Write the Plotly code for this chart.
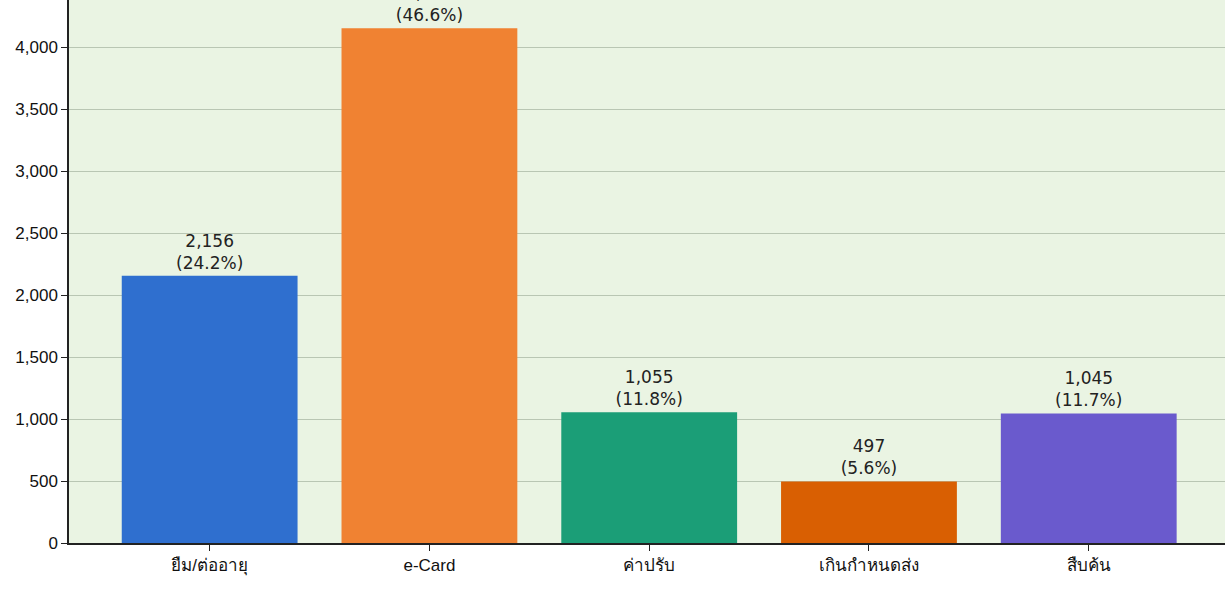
import plotly.graph_objects as go

categories = ["ยืม/ต่ออายุ", "e-Card", "ค่าปรับ", "เกินกำหนดส่ง", "สืบค้น"]
values = [2156, 4152, 1055, 497, 1045]
percents = [24.2, 46.6, 11.8, 5.6, 11.7]
colors = ["#2F6FCF", "#F08232", "#1B9E77", "#D95F02", "#6A5ACD"]

labels = [f"{v:,}<br>({p}%)" for v, p in zip(values, percents)]

fig = go.Figure(go.Bar(
    x=categories, y=values, marker_color=colors, marker_line_width=0,
    width=0.8, text=labels, textposition="outside", cliponaxis=True,
    textfont=dict(family="DejaVu Sans, Liberation Sans, sans-serif", size=17, color="#222"),
))

fig.update_layout(
    width=1225, height=590,
    margin=dict(l=69, r=0, t=0, b=47),
    paper_bgcolor="white", plot_bgcolor="#EAF4E3",
    font=dict(family="Liberation Sans, Arial, sans-serif", size=17, color="#111"),
    showlegend=False,
    bargap=0.2,
)
fig.update_xaxes(range=[-0.64, 4.62], showline=True, linecolor="#222", linewidth=1.5,
                 ticks="outside", ticklen=6, tickcolor="#222", showgrid=False)
fig.update_yaxes(range=[0, 4380], showline=True, linecolor="#222", linewidth=1.5,
                 ticks="outside", ticklen=6, tickcolor="#222", tickformat=",",
                 dtick=500, gridcolor="#B9C6B3", gridwidth=1, layer="above traces",
                 zeroline=False)

fig.write_html("out.html", config={"displayModeBar": False},
               post_script="document.body.style.margin='0';")
